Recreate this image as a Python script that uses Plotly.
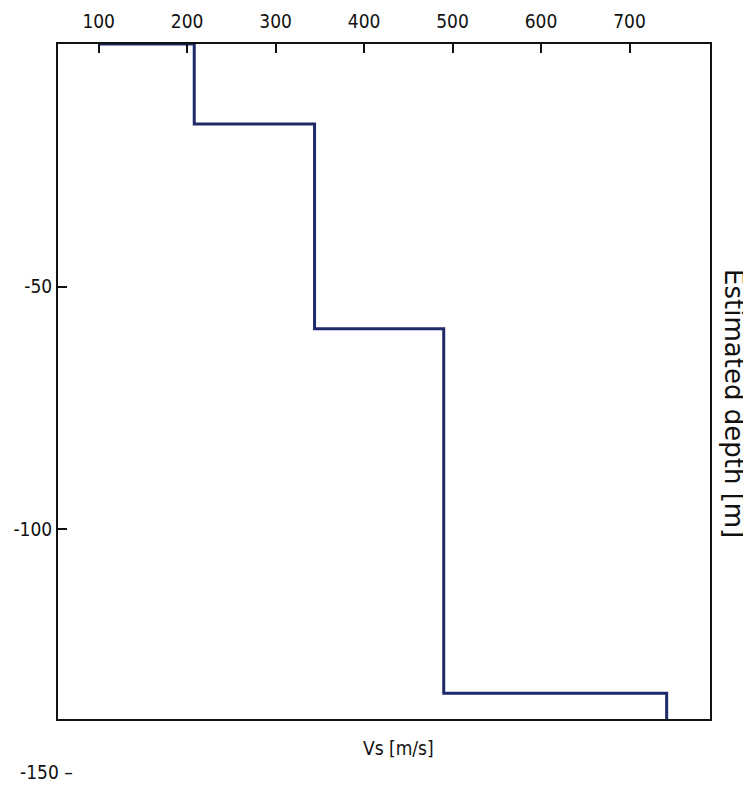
import plotly.graph_objects as go

# Step profile: shear-wave velocity vs estimated depth
vs_values = [100, 208, 344, 490, 742]          # m/s
depth_values = [0, -16.5, -58.7, -133.8, -139.1]  # m

x_tick_vals = [100, 200, 300, 400, 500, 600, 700]
y_tick_vals = [-50, -100]
y_tick_text = ["-50", "-100"]
y_extra_tick = -150
y_extra_text = "-150 \u2013"

FONT = "DejaVu Sans Condensed, Liberation Sans Narrow, Liberation Sans, Arial, sans-serif"
TITLE_FONT = "DejaVu Sans, Liberation Sans, Arial, sans-serif"

y_min, y_max = -139.1, 0

fig = go.Figure()
fig.add_trace(go.Scatter(
    x=vs_values, y=depth_values,
    mode="lines", line=dict(color="#1f2a6b", width=3, shape="hv"),
    showlegend=False, hoverinfo="skip",
))

fig.update_layout(
    width=743, height=777,
    margin=dict(l=50, r=41, t=36, b=66, autoexpand=False),
    paper_bgcolor="white", plot_bgcolor="white",
    font=dict(family=FONT, size=19, color="#111"),
    xaxis=dict(
        side="top", range=[54, 791], tickvals=x_tick_vals, automargin=False,
        ticks="inside", ticklen=9, tickwidth=1.5, tickcolor="#111",
        ticklabelstandoff=6,
        showline=True, linecolor="#111", linewidth=2, mirror=True,
        showgrid=False, zeroline=False,
        tickfont=dict(family=FONT, size=19, color="#111"),
    ),
    yaxis=dict(
        range=[y_min, y_max], tickvals=y_tick_vals, ticktext=y_tick_text, automargin=False,
        ticks="inside", ticklen=9, tickwidth=1.5, tickcolor="#111",
        showline=True, linecolor="#111", linewidth=2, mirror=True,
        showgrid=False, zeroline=False,
        tickfont=dict(family=FONT, size=19, color="#111"),
    ),
    annotations=[
        dict(text=y_extra_text, xref="paper", yref="paper", x=0,
             y=(y_extra_tick - y_min) / (y_max - y_min),
             xanchor="right", yanchor="middle", showarrow=False, xshift=17,
             font=dict(family=FONT, size=19, color="#111")),
        dict(text="Vs [m/s]", xref="paper", yref="paper", x=0.523, y=0,
             xanchor="center", yanchor="top", showarrow=False, yshift=-16,
             font=dict(family=FONT, size=19, color="#111")),
        dict(text="Estimated depth [m]", xref="paper", yref="paper", x=1, y=0.468,
             xanchor="left", yanchor="middle", showarrow=False, textangle=90, xshift=7,
             font=dict(family=TITLE_FONT, size=26, color="#111")),
    ],
)

fig.write_html("out.html")
